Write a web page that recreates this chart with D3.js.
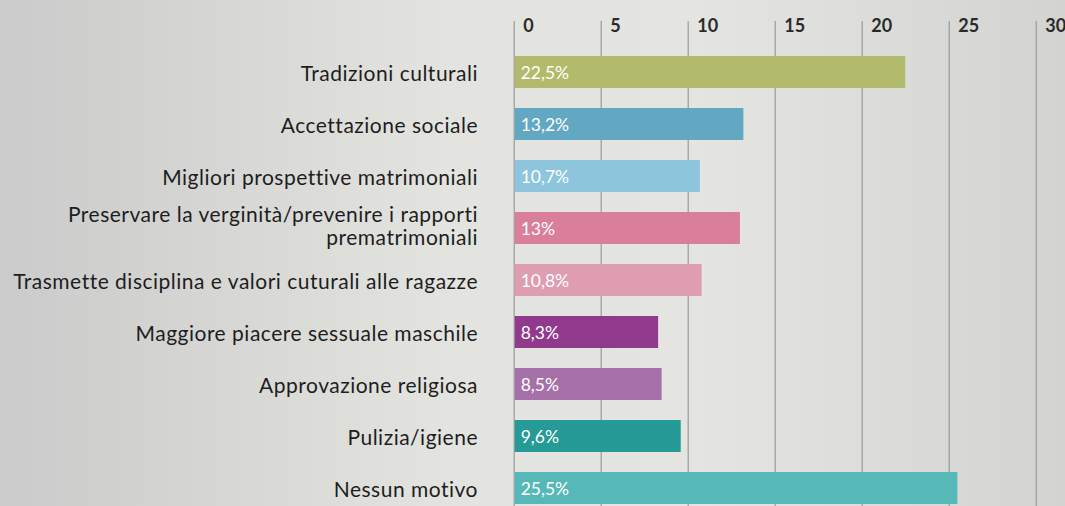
<!DOCTYPE html>
<html>
<head>
<meta charset="utf-8">
<script src="https://cdn.jsdelivr.net/npm/d3@7"></script>
<style>
  body { margin: 0; }
  svg { display: block; font-family: Lato, "Open Sans", sans-serif; }
  .tick text { font-weight: 700; fill: #2a2a2a; }
  .cat { fill: #1e1e1e; }
  .val { fill: #ffffff; }
</style>
</head>
<body>
<svg id="chart"></svg>
<script>
// data
const categories = [
  "Tradizioni culturali",
  "Accettazione sociale",
  "Migliori prospettive matrimoniali",
  "Preservare la verginità/prevenire i rapporti\nprematrimoniali",
  "Trasmette disciplina e valori cuturali alle ragazze",
  "Maggiore piacere sessuale maschile",
  "Approvazione religiosa",
  "Pulizia/igiene",
  "Nessun motivo"
]
const values = [22.5, 13.2, 10.7, 13, 10.8, 8.3, 8.5, 9.6, 25.5]
const valueLabels = ["22,5%", "13,2%", "10,7%", "13%", "10,8%", "8,3%", "8,5%", "9,6%", "25,5%"]
const barColors = ["#b2bb6c", "#63a8c3", "#8dc6dc", "#d97f99", "#de9db0", "#91398c", "#a670a8", "#259a96", "#57b9b7"]
const tickValues = [0, 5, 10, 15, 20, 25, 30]

const width = 1065, height = 506

const svg = d3.select("#chart")
  .attr("width", width)
  .attr("height", height)

// background gradient
const grad = svg.append("defs").append("linearGradient")
  .attr("id", "bg")
  .attr("x1", "0%").attr("y1", "0%")
  .attr("x2", "100%").attr("y2", "0%")
grad.append("stop").attr("offset", "0%").attr("stop-color", "#cacbca")
grad.append("stop").attr("offset", "42%").attr("stop-color", "#e3e3df")
grad.append("stop").attr("offset", "66%").attr("stop-color", "#e4e4e0")
grad.append("stop").attr("offset", "100%").attr("stop-color", "#d3d3d2")

svg.append("rect")
  .attr("width", width)
  .attr("height", height)
  .attr("fill", "url(#bg)")

// scales
const x = d3.scaleLinear().domain([0, 30]).range([513.7, 1035.7])
const y = d3.scaleBand()
  .domain(categories)
  .range([46, 514])
  .paddingInner(20 / 52)
  .paddingOuter(10 / 52)

// axis on top, ticks run down as gridlines
const axis = svg.append("g")
  .attr("transform", "translate(0,21)")
  .call(d3.axisBottom(x).tickValues(tickValues).tickSize(height).tickFormat(d3.format("d")))
axis.attr("font-family", "Lato, sans-serif").attr("font-size", 18)
axis.select(".domain").remove()
axis.selectAll(".tick line")
  .attr("stroke", "#9a9a9a")
  .attr("stroke-width", 1.2)
axis.selectAll(".tick text")
  .attr("y", 11)
  .attr("x", 9)
  .attr("dy", 0)
  .attr("text-anchor", "start")
  .style("font-size", "18px")

// bars
svg.selectAll(".bar")
  .data(values)
  .enter().append("rect")
    .attr("class", "bar")
    .attr("x", x(0) + 1)
    .attr("y", (d, i) => y(categories[i]))
    .attr("width", d => x(d) - x(0) - 1)
    .attr("height", y.bandwidth())
    .attr("fill", (d, i) => barColors[i])

// value labels inside bars
svg.selectAll(".val")
  .data(values)
  .enter().append("text")
    .attr("class", "val")
    .attr("x", x(0) + 7)
    .attr("y", (d, i) => y(categories[i]) + y.bandwidth() / 2 + 7)
    .attr("font-size", 17.5)
    .text((d, i) => valueLabels[i])

// category labels, right aligned
const cat = svg.selectAll(".cat")
  .data(categories)
  .enter().append("text")
    .attr("class", "cat")
    .attr("text-anchor", "end")
    .attr("font-size", 21)
    .attr("letter-spacing", 0.5)

cat.each(function(d) {
  const lines = d.split("\n")
  const cy = y(d) + y.bandwidth() / 2
  const t = d3.select(this)
  if (lines.length === 1) {
    t.append("tspan").attr("x", 478).attr("y", cy + 9).text(lines[0])
  } else {
    lines.forEach((l, j) => {
      t.append("tspan").attr("x", 478).attr("y", cy - 6 + j * 23).text(l)
    })
  }
})
</script>
</body>
</html>
